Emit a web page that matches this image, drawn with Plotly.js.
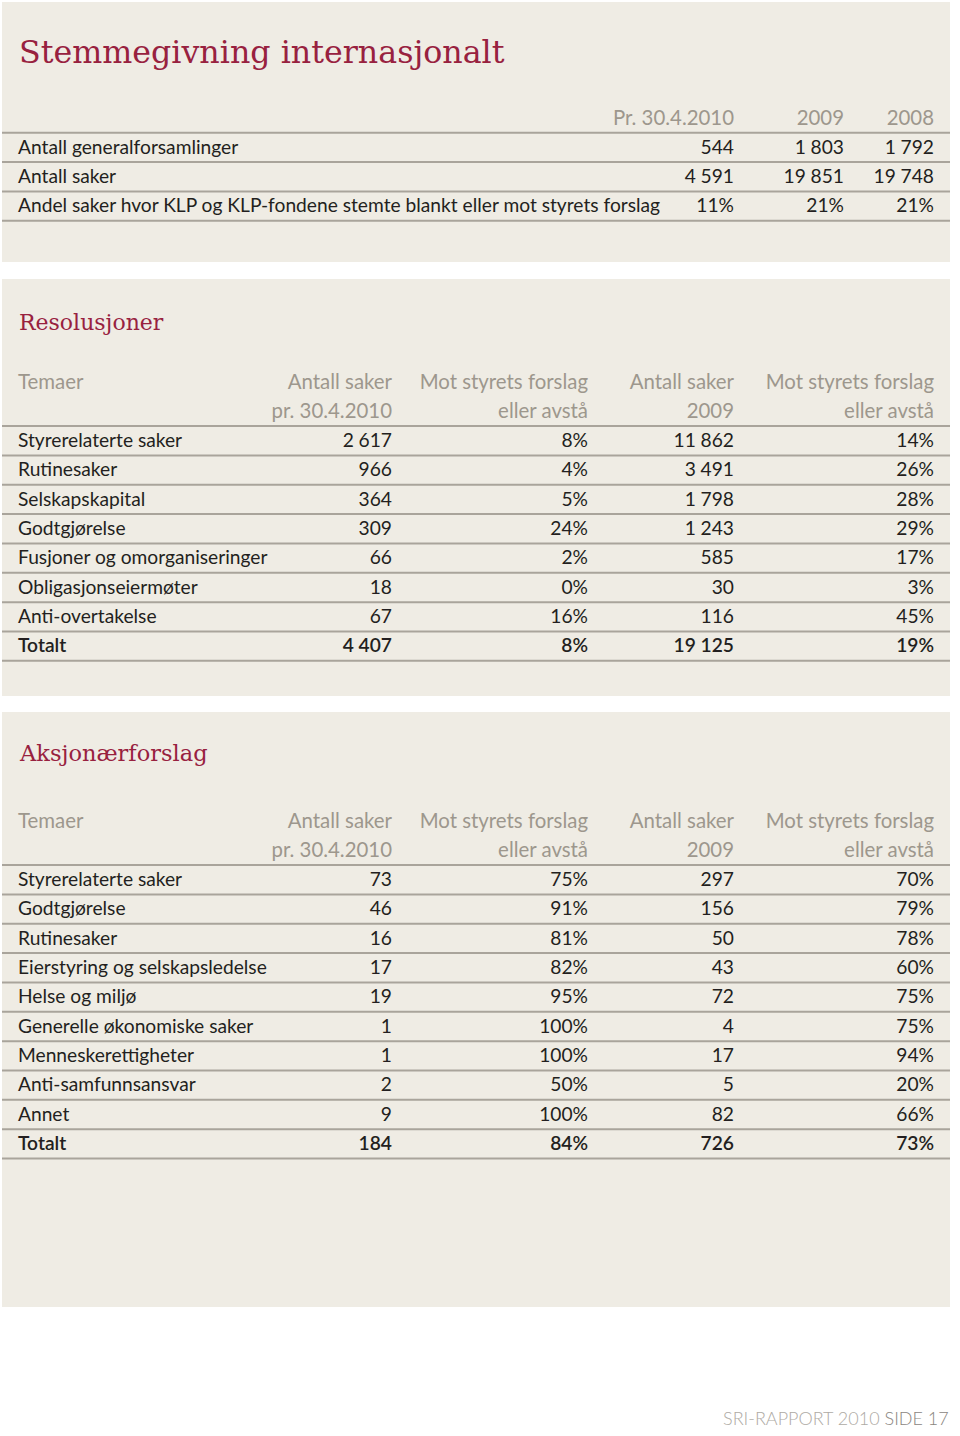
<!DOCTYPE html>
<html>
<head>
<meta charset="utf-8">
<script src="https://cdn.plot.ly/plotly-3.0.1.min.js"></script>
<style>html,body{margin:0;padding:0;background:#fff;}#chart{width:960px;height:1436px;}</style>
</head>
<body>
<div id="chart"></div>
<script>
// ---------- DATA ----------
const mainTitle = "Stemmegivning internasjonalt";
const t1Headers = ["Pr. 30.4.2010", "2009", "2008"];
const t1Labels = ["Antall generalforsamlinger", "Antall saker", "Andel saker hvor KLP og KLP-fondene stemte blankt eller mot styrets forslag"];
const t1Col2010 = ["544", "4\u2005591", "11%"];
const t1Col2009 = ["1\u2005803", "19\u2005851", "21%"];
const t1Col2008 = ["1\u2005792", "19\u2005748", "21%"];

const resTitle = "Resolusjoner";
const subHeadLine1 = ["Antall saker", "Mot styrets forslag", "Antall saker", "Mot styrets forslag"];
const subHeadLine2 = ["pr. 30.4.2010", "eller avstå", "2009", "eller avstå"];
const temaHeader = "Temaer";
const resThemes = ["Styrerelaterte saker", "Rutinesaker", "Selskapskapital", "Godtgjørelse", "Fusjoner og omorganiseringer", "Obligasjonseiermøter", "Anti-overtakelse", "Totalt"];
const resCount2010 = ["2\u2005617", "966", "364", "309", "66", "18", "67", "4\u2005407"];
const resAgainst2010 = ["8%", "4%", "5%", "24%", "2%", "0%", "16%", "8%"];
const resCount2009 = ["11\u2005862", "3\u2005491", "1\u2005798", "1\u2005243", "585", "30", "116", "19\u2005125"];
const resAgainst2009 = ["14%", "26%", "28%", "29%", "17%", "3%", "45%", "19%"];

const aksTitle = "Aksjonærforslag";
const aksThemes = ["Styrerelaterte saker", "Godtgjørelse", "Rutinesaker", "Eierstyring og selskapsledelse", "Helse og miljø", "Generelle økonomiske saker", "Menneskerettigheter", "Anti-samfunnsansvar", "Annet", "Totalt"];
const aksCount2010 = ["73", "46", "16", "17", "19", "1", "1", "2", "9", "184"];
const aksAgainst2010 = ["75%", "91%", "81%", "82%", "95%", "100%", "100%", "50%", "100%", "84%"];
const aksCount2009 = ["297", "156", "50", "43", "72", "4", "17", "5", "82", "726"];
const aksAgainst2009 = ["70%", "79%", "78%", "60%", "75%", "75%", "94%", "20%", "66%", "73%"];

const footerLight = "SRI-RAPPORT 2010";
const footerDark = "SIDE 17";

// ---------- STYLE / LAYOUT CONSTANTS ----------
const W = 960, H = 1436;
const BODY_FONT = "Lato";
const BODY_SIZE = 19.2;
const HEAD_SIZE = 20.4;
const INK = "#231f20";
const GREY = "#9d978d";
const RED = "#98213f";
const PANEL = "#efece4";
const RULE = "#a9a49b";
const ROW = 29.35;
const TEXT_DY = 1.5;
const LEFT = 18, PANEL_L = 2, PANEL_R = 950;

const traces = [];
const shapes = [];
const annotations = [];

function textTrace(xpos, ys, texts, color, align, bold, size) {
  traces.push({
    type: "scatter", mode: "text",
    x: ys.map(() => xpos), y: ys.map(v => v + TEXT_DY), text: texts,
    textposition: align === "left" ? "middle right" : "middle left",
    textfont: {family: BODY_FONT, size: size || BODY_SIZE, color: color, weight: bold ? 600 : 400},
    marker: {size: 0}, hoverinfo: "skip", showlegend: false, cliponaxis: false
  });
}
function rule(y) {
  shapes.push({type: "line", xref: "x", yref: "y", x0: PANEL_L, x1: PANEL_R, y0: y, y1: y,
    line: {color: RULE, width: 2}, layer: "above"});
}
function panel(y0, y1) {
  shapes.push({type: "rect", xref: "x", yref: "y", x0: PANEL_L, x1: PANEL_R, y0: y0, y1: y1,
    fillcolor: PANEL, line: {width: 0}, layer: "below"});
}
function heading(text, y, size) {
  annotations.push({xref: "x", yref: "y", x: LEFT - 1, y: y, text: text, showarrow: false,
    xanchor: "left", yanchor: "middle",
    font: {family: "DejaVu Serif", size: size, color: RED}});
}

// Panels
panel(2, 262);
panel(279, 696);
panel(712, 1307);

// ----- Table 1 -----
heading(mainTitle, 52, 31.7);
const t1HeadY = 118;
const t1Cols = [734, 844, 934];
t1Headers.forEach((h, i) => textTrace(t1Cols[i], [t1HeadY], [h], GREY, "right", false, HEAD_SIZE));
const t1Ys = t1Labels.map((_, i) => t1HeadY + ROW * (i + 1));
textTrace(LEFT, t1Ys, t1Labels, INK, "left");
textTrace(t1Cols[0], t1Ys, t1Col2010, INK, "right");
textTrace(t1Cols[1], t1Ys, t1Col2009, INK, "right");
textTrace(t1Cols[2], t1Ys, t1Col2008, INK, "right");
rule(t1HeadY + ROW / 2);
t1Ys.forEach(y => rule(y + ROW / 2));

// ----- Multi-column tables -----
const multiCols = [392, 588, 734, 934];
function multiTable(title, titleY, titleSize, headY, themes, cols) {
  heading(title, titleY, titleSize);
  textTrace(LEFT, [headY], [temaHeader], GREY, "left", false, HEAD_SIZE);
  subHeadLine1.forEach((h, i) => textTrace(multiCols[i], [headY, headY + ROW], [h, subHeadLine2[i]], GREY, "right", false, HEAD_SIZE));
  const firstY = headY + ROW * 2;
  const ys = themes.map((_, i) => firstY + ROW * i);
  const n = themes.length;
  const normYs = ys.slice(0, n - 1), totY = [ys[n - 1]];
  textTrace(LEFT, normYs, themes.slice(0, n - 1), INK, "left");
  textTrace(LEFT, totY, themes.slice(n - 1), INK, "left", true);
  cols.forEach((c, i) => {
    textTrace(multiCols[i], normYs, c.slice(0, n - 1), INK, "right");
    textTrace(multiCols[i], totY, c.slice(n - 1), INK, "right", true);
  });
  rule(firstY - ROW / 2);
  ys.forEach(y => rule(y + ROW / 2));
}
multiTable(resTitle, 322, 22, 382, resThemes, [resCount2010, resAgainst2010, resCount2009, resAgainst2009]);
multiTable(aksTitle, 753, 22.5, 821, aksThemes, [aksCount2010, aksAgainst2010, aksCount2009, aksAgainst2009]);

// Footer
annotations.push({xref: "x", yref: "y", x: PANEL_R + 1, y: 1418, showarrow: false, xanchor: "right", yanchor: "middle",
  text: '<span style="color:#aeaaa4">' + footerLight + '</span> <span style="color:#8a857e">' + footerDark + '</span>',
  font: {family: BODY_FONT, size: 18, color: "#8a857e", weight: 300}});

const layout = {
  width: W, height: H,
  margin: {l: 0, r: 0, t: 0, b: 0, pad: 0},
  paper_bgcolor: "#ffffff", plot_bgcolor: "#ffffff",
  xaxis: {range: [0, W], visible: false, fixedrange: true},
  yaxis: {range: [H, 0], visible: false, fixedrange: true},
  shapes: shapes, annotations: annotations, showlegend: false, hovermode: false
};
Plotly.newPlot("chart", traces, layout, {staticPlot: true, displayModeBar: false});
</script>
</body>
</html>
